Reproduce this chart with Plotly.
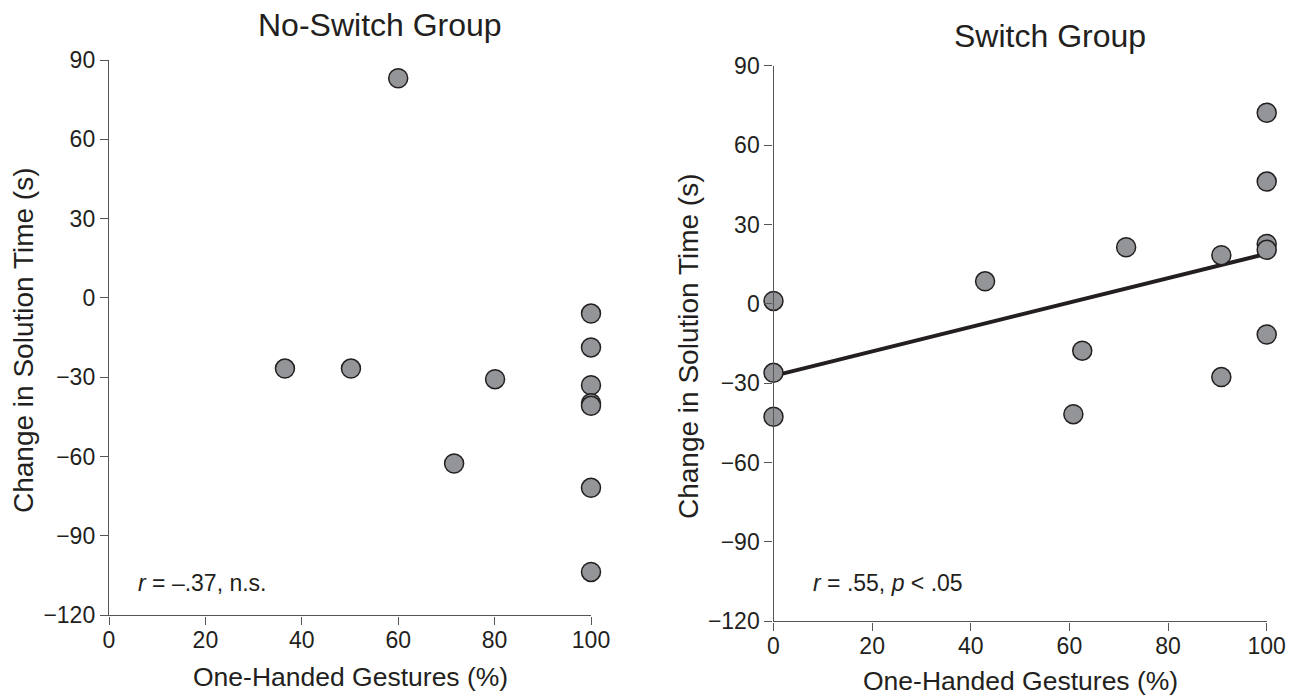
import numpy as np
import plotly.graph_objects as go

# ---- data ----
noswitch_x = [60, 36.5, 50.2, 80.1, 71.6, 100, 100, 100, 100, 100, 100, 100]
noswitch_y = [83.1, -26.7, -26.7, -30.7, -62.6, -5.9, -18.7, -33.0, -39.8, -40.8, -71.8, -103.6]

switch_x = [100, 100, 100, 100, 100, 71.5, 90.8, 90.8, 42.9, 62.6, 60.8, 0, 0, 0]
switch_y = [72.2, 46.2, 22.6, 20.4, -11.6, 21.4, 18.4, -27.7, 8.5, -17.7, -41.7, 1.1, -26.1, -42.7]

x_ticks = [0, 20, 40, 60, 80, 100]
y_ticks = [-120, -90, -60, -30, 0, 30, 60, 90]

titles = ["No-Switch Group", "Switch Group"]
x_title = "One-Handed Gestures (%)"
y_title = "Change in Solution Time (s)"
stats = ["<i>r</i> = –.37, n.s.", "<i>r</i> = .55, <i>p</i> &lt; .05"]

# regression line for Switch group
slope, intercept = np.polyfit(switch_x, switch_y, 1)
fit_x = [0, 100]
fit_y = [intercept + slope * v for v in fit_x]

W, H = 1295, 697
def px(x):
    return x / W
def py(y):
    return 1 - y / H

TEXT = "#231f20"
AX = "#555555"
FILL = "#939598"
FONT = "Liberation Sans, Arial, sans-serif"

fig = go.Figure()

marker = dict(size=19, color=FILL, line=dict(color=TEXT, width=1.5))

fig.add_trace(go.Scatter(x=noswitch_x, y=noswitch_y, mode="markers", marker=marker,
                         xaxis="x", yaxis="y", cliponaxis=False, showlegend=False))
fig.add_trace(go.Scatter(x=fit_x, y=fit_y, mode="lines", line=dict(color=TEXT, width=4),
                         xaxis="x2", yaxis="y2", cliponaxis=False, showlegend=False))
fig.add_trace(go.Scatter(x=switch_x, y=switch_y, mode="markers", marker=marker,
                         xaxis="x2", yaxis="y2", cliponaxis=False, showlegend=False))

axis_common = dict(showgrid=False, zeroline=False, showline=True, linecolor=AX, linewidth=1.4,
                   ticks="outside", ticklen=8, tickwidth=1.4, tickcolor=AX, automargin=False,
                   tickfont=dict(family=FONT, size=23, color=TEXT), fixedrange=True)

fig.update_layout(
    template="none",
    width=W, height=H,
    margin=dict(l=0, r=0, t=0, b=0, pad=0),
    paper_bgcolor="white", plot_bgcolor="white",
    xaxis=dict(domain=[px(109), px(591)], range=[0, 100], tickmode="array", tickvals=x_ticks,
               anchor="y", ticklabelstandoff=-4, **axis_common),
    yaxis=dict(domain=[py(615.3), py(60)], range=[-120, 90], tickmode="array", tickvals=y_ticks,
               anchor="x", ticklabelstandoff=0, **axis_common),
    xaxis2=dict(domain=[px(773.5), px(1266.7)], range=[0, 100], tickmode="array", tickvals=x_ticks,
                anchor="y2", ticklabelstandoff=-4, **axis_common),
    yaxis2=dict(domain=[py(621.3), py(65.7)], range=[-120, 90], tickmode="array", tickvals=y_ticks,
                anchor="x2", ticklabelstandoff=0, **axis_common),
)

def ann(text, x, y, size, angle=0, xanchor="center", yanchor="middle"):
    fig.add_annotation(text=text, x=px(x), y=py(y), xref="paper", yref="paper",
                       showarrow=False, textangle=angle, xanchor=xanchor, yanchor=yanchor,
                       font=dict(family=FONT, size=size, color=TEXT))

ann(titles[0], 380, 24.5, 32)
ann(titles[1], 1050, 36.3, 32)
ann(y_title, 23, 340, 28, angle=-90)
ann(y_title, 689, 346, 28, angle=-90)
ann(x_title, 350, 677, 26.5)
ann(x_title, 1020, 681, 26.5)
ann(stats[0], 136, 582.5, 23, xanchor="left")
ann(stats[1], 811, 582.5, 23, xanchor="left")

fig.write_html("out.html", config={"displayModeBar": False},
               post_script="document.body.style.margin='0';document.body.style.overflow='hidden';")
